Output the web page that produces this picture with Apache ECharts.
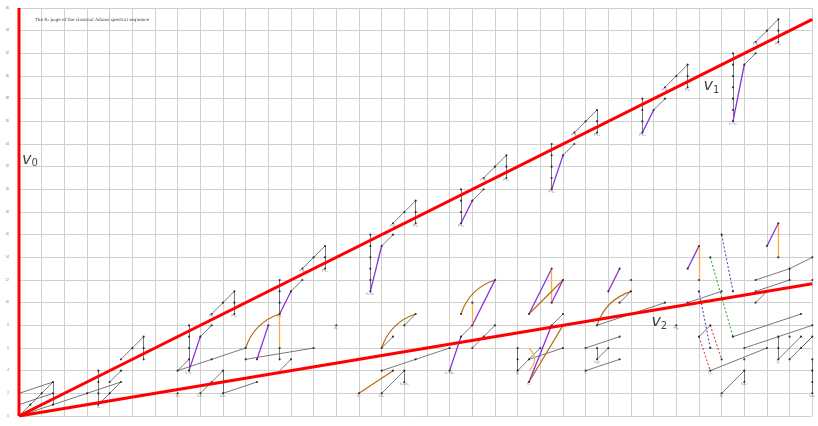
<!DOCTYPE html>
<html><head><meta charset="utf-8">
<script src="https://cdn.jsdelivr.net/npm/echarts@6/dist/echarts.min.js"></script>
<style>html,body{margin:0;padding:0;background:#fff}#c{width:818px;height:426px}</style>
</head><body><div id="c"></div>
<script>
// Axis extents: stem t-s along x, filtration s along y
const stemRange = [0, 70];
const filtRange = [0, 36];

// Vanishing / periodicity lines
const v0Line = [[0, 0], [0, 36]];
const v1Line = [[0, 0], [70, 35]];
const v2Line = [[0, 0], [70, 11.67]];
const vLabels = [[0.97, 22.6, '0'], [61.1, 29.1, '1'], [56.5, 8.3, '2']];

// Classes (stem, s)
const dots = [
  [1,1],[2,2],[3,1],[3,2],[3,3],[6,2],
  [7,1],[7,2],[7,3],[7,4],[8,2],[8,3],[9,3],[9,4],[9,5],[10,6],[11,5],[11,6],[11,7],
  [14,2],[14,4],[15,4],[15,5],[15,6],[15,7],[15,8],[16,2],[16,7],[17,3],[17,8],[17,9],[18,10],[19,9],[19,10],[19,11],
  [17,5],[20,6],[18,2],[18,3],[18,4],[20,5],[21,5],[22,8],[23,5],[23,6],[24,5],[26,6],[21,3],
  [23,9],[23,10],[23,11],[23,12],[24,11],[25,12],[25,13],[26,14],[27,13],[27,14],[27,15],[28,8],
  [30,2],[32,2],[32,4],[32,6],[33,4],[33,7],[34,3],[34,4],[34,8],[35,5],[35,9],[38,6],[38,4],[39,7],[40,6],[41,7],[42,8],
  [31,11],[31,12],[31,13],[31,14],[31,15],[31,16],[32,15],[33,16],[33,17],[34,18],[35,17],[35,18],[35,19],
  [39,9],[40,8],[40,10],[42,12],[45,9],[47,10],[47,13],[48,12],[52,11],[53,13],[54,11],[54,12],[59,13],[60,12],[60,15],[66,15],[67,14],[67,17],
  [44,4],[44,5],[44,6],[45,3],[45,5],[46,6],[47,8],[48,6],[48,8],[48,9],
  [50,4],[50,6],[51,5],[51,6],[51,8],[52,6],[53,5],[53,7],[53,10],[57,10],[58,8],[59,10],[62,11],
  [39,17],[39,18],[39,19],[39,20],[40,19],[41,20],[41,21],[42,22],[43,21],[43,22],[43,23],
  [47,20],[47,21],[47,22],[47,23],[47,24],[48,23],[49,24],[49,25],[50,26],[51,25],[51,26],[51,27],
  [55,25],[55,26],[55,27],[55,28],[56,27],[57,28],[57,29],[58,30],[59,29],[59,30],[59,31],
  [63,26],[63,27],[63,28],[63,29],[63,30],[63,31],[63,32],[64,31],[65,32],[65,33],[66,34],[67,33],[67,34],[67,35],
  [60,7],[60,11],[61,4],[61,6],[61,8],[61,14],[62,5],[62,16],[63,7],[63,11],
  [62,2],[64,3],[64,4],[64,5],[66,6],[69,9],[70,8],[64,6],
  [65,10],[65,11],[65,12],[66,11],[68,12],[68,13],[70,12],[70,14],
  [67,5],[67,6],[67,7],[68,5],[68,7],[69,6],[69,7],[70,2],[70,3],[70,4],[70,5],[70,7]
];

// Multiplications drawn as plain segments [x1, y1, x2, y2]
const blackSegs = [
  [0,0,3,3],[0,0,3,1],[0,1,3,2],[0,2,3,3],[3,1,3,3],[3,1,9,3],
  [7,1,7,4],[7,1,9,3],[8,3,9,4],[9,5,11,7],[11,5,11,7],
  [15,4,15,8],[16,7,17,8],[17,9,19,11],[19,9,19,11],[14,4,15,5],[14,4,20,6],
  [16,2,18,4],[18,2,18,4],[18,2,21,3],[20,5,26,6],[23,5,23,6],[23,4,24,5],
  [23,9,23,12],[24,11,25,12],[25,13,27,15],[27,13,27,15],
  [32,4,38,6],[32,2,34,4],[34,3,34,4],[32,6,33,7],[34,8,35,9],
  [39,7,40,8],[40,6,42,8],
  [44,4,44,6],[44,4,46,6],[45,5,48,6],[47,8,48,9],
  [50,4,53,5],[50,6,53,7],[51,5,51,6],[51,5,52,6],[51,8,57,10],[53,10,54,11],
  [59,10,62,11],[60,7,61,8],[61,4,66,6],[62,2,64,4],[64,3,64,4],
  [63,7,69,9],[64,6,70,8],[65,12,68,13],[68,12,68,13],[65,11,68,12],[65,10,66,11],
  [67,5,67,7],[67,5,69,7],[68,5,70,7],[69,6,70,7],[70,2,70,5],[68,13,70,14],
  [31,11,31,16],[32,15,33,16],[33,17,35,19],[35,17,35,19],
  [39,17,39,20],[40,19,41,20],[41,21,43,23],[43,21,43,23],
  [47,20,47,24],[48,23,49,24],[49,25,51,27],[51,25,51,27],
  [55,25,55,28],[56,27,57,28],[57,29,59,31],[59,29,59,31],
  [63,26,63,32],[64,31,65,32],[65,33,67,35],[67,33,67,35]
];
const purpleSegs = [
  [15,4,16,7],[23,9,24,11],[31,11,32,15],[39,17,40,19],[47,20,48,23],[55,25,56,27],[63,26,64,31],
  [21,5,22,8],[38,4,39,7],[40,8,42,12],[52,11,53,13],[59,13,60,15],[66,15,67,17],[47,10,48,12],[45,9,47,13],[45,3,47,8]
];
const orangeSegs = [[23,6,23,9],[40,8,40,10],[47,10,47,13],[60,12,60,15],[67,14,67,17]];
const orangeArcs = [[45,6,45,4]];
const brownArcs = [[20,6,23,9],[32,6,35,9],[39,9,42,12],[51,8,54,11]];
const brownSegs = [[30,2,33,4],[45,9,48,12],[45,3,48,8]];
const greenDashed = [[61,14,63,7]];
const blueDashed = [[62,16,63,11],[60,11,61,6]];
const redDashed = [[60,7,61,4],[61,8,62,5]];

// Small class names placed beside generators
const classNames = [
  [7,1,'h\u2083'],[15,4,'h\u2080\u00b3h\u2084'],[17,9,'Pe\u2080'],[19,9,'P\u00b2c\u2080'],[14,2,'h\u2083\u00b2'],[16,2,'h\u2081h\u2084'],[18,2,'h\u2082h\u2084'],
  [23,9,'h\u2084c\u2080'],[25,13,'P\u00b2d\u2080'],[27,13,'P\u00b3c\u2080'],[28,8,'d\u2080\u00b2'],
  [31,11,'h\u2080\u00b9\u2070h\u2085'],[33,17,'P\u00b3d\u2080'],[35,17,'P\u2074c\u2080'],
  [39,17,'P\u2074h\u2083'],[41,21,'P\u2074d\u2080'],[43,21,'P\u2075c\u2080'],
  [47,20,'P\u2075h\u2083'],[49,25,'P\u2075d\u2080'],[51,25,'P\u2076c\u2080'],
  [55,25,'P\u2076h\u2083'],[57,29,'P\u2076d\u2080'],[59,29,'P\u2077c\u2080'],
  [63,26,'h\u2080\u00b2\u2075h\u2086'],[65,33,'P\u2077d\u2080'],[67,33,'P\u2078c\u2080'],
  [30,2,'h\u2084\u00b2'],[32,2,'h\u2081h\u2085'],[34,3,'h\u2080h\u2082h\u2085'],[38,4,'h\u2080\u00b2h\u2083h\u2085'],
  [44,4,'g\u2082'],[45,3,'h\u2084\u00b3'],[50,4,'C'],[51,5,'h\u2083g\u2082'],[58,8,'Pg\u2082'],
  [61,4,'D\u2083'],[62,2,'h\u2085\u00b2'],[64,3,'h\u2081h\u2085\u00b2'],[67,5,'Q\u2083'],[70,2,'h\u2083h\u2086']
];

const yTickValues = [0,2,4,6,8,10,12,14,16,18,20,22,24,26,28,30,32,34,36];

function segData(list) {
  return list.map(s => ({ coords: [[s[0], s[1]], [s[2], s[3]]] }));
}

const chart = echarts.init(document.getElementById('c'), null, { renderer: 'canvas' });
chart.setOption({
  animation: false,
  backgroundColor: '#fff',
  title: {
    text: 'The E\u2082-page of the classical Adams spectral sequence',
    left: 30, top: 13,
    textStyle: { fontSize: 4.2, fontWeight: 'normal', color: '#444', fontFamily: 'DejaVu Serif' }
  },
  grid: { left: 19, right: 5.7, top: 8, bottom: 10, show: false },
  xAxis: {
    type: 'value', min: stemRange[0], max: stemRange[1], interval: 2,
    axisLine: { show: false }, axisTick: { show: false }, axisLabel: { show: false },
    splitLine: { show: true, lineStyle: { color: '#cfcfcf', width: 1 } }
  },
  yAxis: {
    type: 'value', min: filtRange[0], max: filtRange[1], interval: 2,
    axisLine: { show: false }, axisTick: { show: false },
    axisLabel: { show: true, fontSize: 3, color: '#777', margin: 10,
      formatter: v => yTickValues.includes(v) ? String(v) : '' },
    splitLine: { show: true, lineStyle: { color: '#cfcfcf', width: 1 } }
  },
  series: [
    { type: 'lines', coordinateSystem: 'cartesian2d', data: segData(blackSegs),
      lineStyle: { color: '#555', width: 0.8, opacity: 1 }, z: 3 },
    { type: 'lines', coordinateSystem: 'cartesian2d', data: segData(purpleSegs),
      lineStyle: { color: '#8a2be2', width: 1.3, opacity: 1 }, z: 4 },
    { type: 'lines', coordinateSystem: 'cartesian2d', data: segData(orangeSegs),
      lineStyle: { color: '#ffa64d', width: 1.3, opacity: 1 }, z: 4 },
    { type: 'lines', coordinateSystem: 'cartesian2d', data: segData(orangeArcs),
      lineStyle: { color: '#ffa64d', width: 1.1, opacity: 1, curveness: 0.5 }, z: 4 },
    { type: 'lines', coordinateSystem: 'cartesian2d', data: segData(brownArcs),
      lineStyle: { color: '#b8690f', width: 1.2, opacity: 1, curveness: 0.25 }, z: 4 },
    { type: 'lines', coordinateSystem: 'cartesian2d', data: segData(brownSegs),
      lineStyle: { color: '#b8690f', width: 1.2, opacity: 1 }, z: 4 },
    { type: 'lines', coordinateSystem: 'cartesian2d', data: segData(greenDashed),
      lineStyle: { color: '#1a9e1a', width: 1, type: [2, 2], opacity: 1 }, z: 4 },
    { type: 'lines', coordinateSystem: 'cartesian2d', data: segData(blueDashed),
      lineStyle: { color: '#3a3acc', width: 1, type: [2, 2], opacity: 1 }, z: 4 },
    { type: 'lines', coordinateSystem: 'cartesian2d', data: segData(redDashed),
      lineStyle: { color: '#ee2222', width: 1, type: [2, 2], opacity: 1 }, z: 4 },
    { type: 'scatter', data: dots, symbolSize: 2.2, itemStyle: { color: '#111' }, z: 5 },
    { type: 'scatter', data: classNames, symbolSize: 0, z: 5,
      label: { show: true, position: 'bottom', distance: 1, fontSize: 3, color: '#666',
        formatter: p => p.value[2] } },
    { type: 'line', data: v0Line, showSymbol: false, lineStyle: { color: '#ff0000', width: 3 }, z: 6 },
    { type: 'line', data: v1Line, showSymbol: false, lineStyle: { color: '#ff0000', width: 3 }, z: 6 },
    { type: 'line', data: v2Line, showSymbol: false, lineStyle: { color: '#ff0000', width: 3 }, z: 6 },
    { type: 'scatter', data: vLabels, symbolSize: 0, z: 7,
      label: { show: true, position: 'inside',
        formatter: p => '{v|v}{sub|' + p.value[2] + '}',
        rich: { v: { fontSize: 16, fontFamily: 'DejaVu Sans', color: '#111', fontStyle: 'italic' },
                sub: { fontSize: 10, fontFamily: 'DejaVu Sans', color: '#111', verticalAlign: 'bottom', padding: [8, 0, 0, 0] } } } }
  ]
});
</script></body></html>
